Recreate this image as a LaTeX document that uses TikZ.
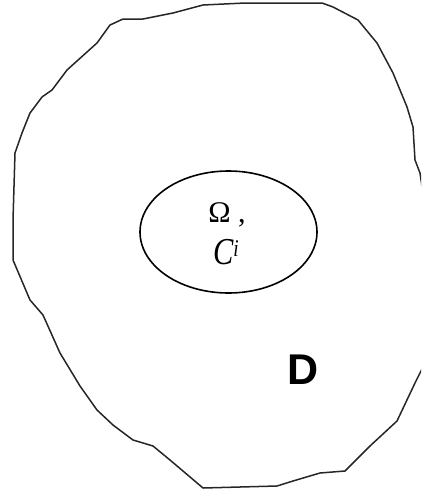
\documentclass[tikz,border=0pt]{standalone}
\usepackage{fontspec}
\usepackage{graphicx}
\setmainfont{Liberation Serif}
\newfontfamily\dfont{Liberation Sans}
\usetikzlibrary{shapes.geometric}
\begin{document}
\begin{tikzpicture}[x=1pt,y=-1pt,
  bound/.style={draw=black!85, line width=1.5pt, line join=round},
  region/.style={ellipse, draw=black, line width=1.6pt, inner sep=0pt},
  lbl/.style={inner sep=0pt}]
\useasboundingbox (0,0) rectangle (421,493);
\clip (0,0) rectangle (421,493);
\draw[bound] (97,43) -- (110,25) -- (123,19) -- (143,19) -- (173,13) -- (203,5) -- (245,3) -- (322,3) -- (333,7) -- (358,20) -- (377,43) -- (393,73) -- (407,107) -- (413,127) -- (415,160) -- (420,173) -- (424,200)
  -- (424,365) -- (415,383) -- (397,421) -- (370,446) -- (345,471) -- (320,473) -- (293,481) -- (277,486) -- (203,488) -- (170,460) -- (153,446) -- (133,440) -- (113,425) -- (97,410) -- (80,386) -- (60,353) -- (43,315) -- (30,300) -- (13,260) -- (13,220) -- (15,153) -- (22,133) -- (30,113) -- (42,97) -- (52,90) -- (67,70) -- cycle;
\node[region, minimum width=177pt, minimum height=122pt] (omega) at (228.5,232) {};
\node[lbl, font=\fontsize{30}{30}\selectfont] (om) at (227,215) {Ω ,};
\node[lbl] (ci) at (226,252) {\scalebox{0.8}[1]{\itshape\fontsize{38}{38}\selectfont C\raisebox{8pt}{\fontsize{24}{24}\selectfont i}}};
\node[lbl, font=\dfont\bfseries\fontsize{43}{43}\selectfont] (d) at (303.5,370) {D};
\end{tikzpicture}
\end{document}
